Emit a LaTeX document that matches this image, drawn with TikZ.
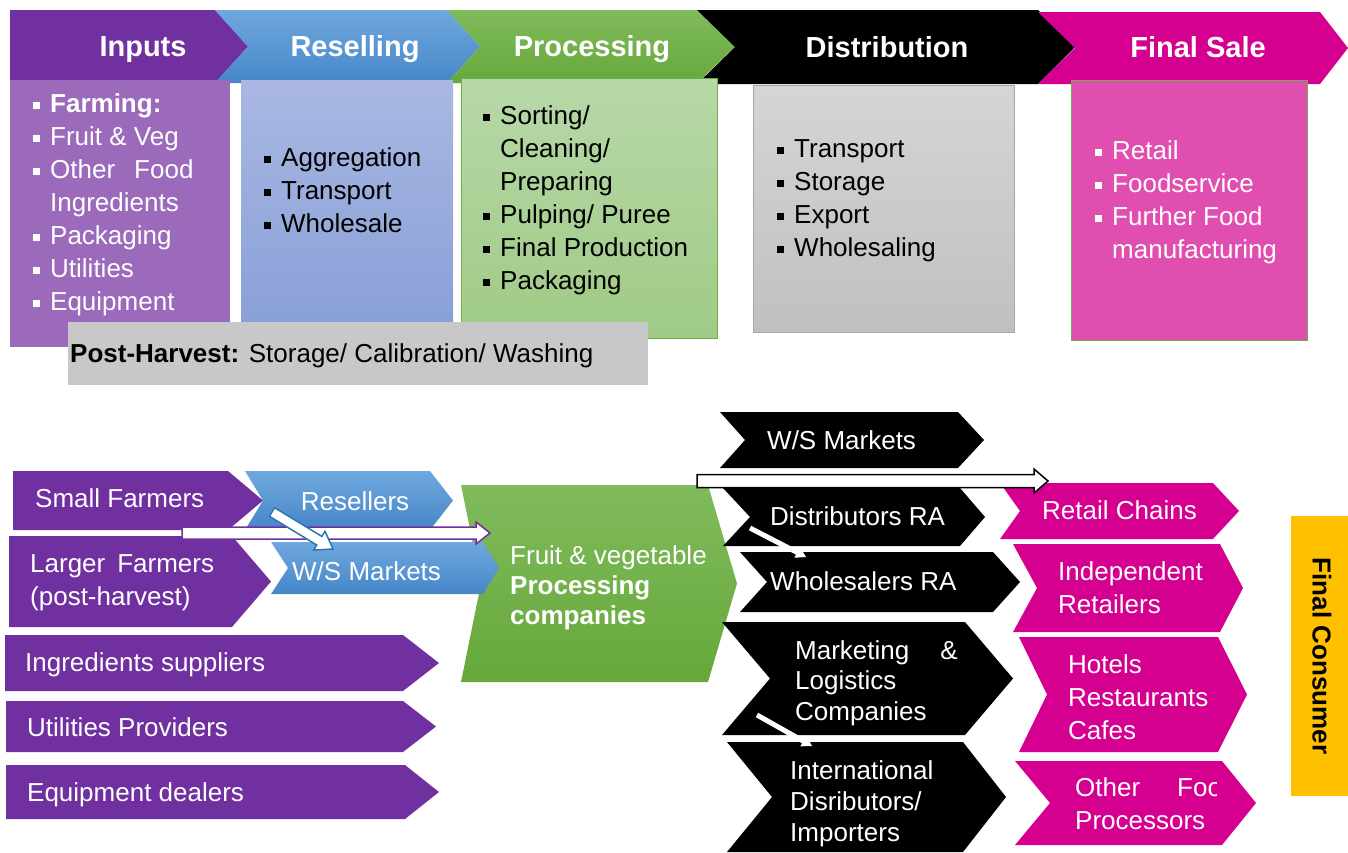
\documentclass[tikz,border=0pt]{standalone}
\usepackage{fontspec}
\setmainfont{Liberation Sans}
\usepackage{xcolor}
\usetikzlibrary{calc,positioning}

\definecolor{inpurple}{RGB}{112,48,160}
\definecolor{inlight}{RGB}{155,106,187}
\definecolor{blueT}{RGB}{111,168,222}
\definecolor{blueB}{RGB}{70,134,200}
\definecolor{bluebxT}{RGB}{170,184,226}
\definecolor{bluebxB}{RGB}{137,160,216}
\definecolor{greenT}{RGB}{128,187,92}
\definecolor{greenB}{RGB}{102,168,58}
\definecolor{greenbxT}{RGB}{183,216,168}
\definecolor{greenbxB}{RGB}{160,203,134}
\definecolor{greenln}{RGB}{112,173,71}
\definecolor{grayT}{RGB}{213,213,213}
\definecolor{grayB}{RGB}{192,192,192}
\definecolor{grayln}{RGB}{166,166,166}
\definecolor{phgray}{RGB}{200,200,200}
\definecolor{salepink}{RGB}{213,0,143}
\definecolor{salelight}{RGB}{224,79,176}
\definecolor{consumer}{RGB}{255,192,0}
\definecolor{arrblue}{RGB}{46,117,182}

% chevron: [style]{x left}{x flat right}{y top}{y bottom}{x tip}{x notch}
\newcommand\chev[7][]{\path[#1] (#2,#4) -- (#3,#4) -- (#6,{(#4+#5)/2}) -- (#3,#5) -- (#2,#5) -- (#7,{(#4+#5)/2}) -- cycle;}
% block arrow: [style]{from}{to}{half shaft}{half head}{head length}
\newcommand\blockarr[6][]{%
  \path ($(#3)!#6!(#2)$) coordinate (ahb);
  \path[#1] ($(#2)!#4!90:(#3)$) -- ($(ahb)!#4!90:(#3)$) -- ($(ahb)!#5!90:(#3)$) -- (#3)
    -- ($(ahb)!#5!-90:(#3)$) -- ($(ahb)!#4!-90:(#3)$) -- ($(#2)!#4!-90:(#3)$) -- cycle;}
\newcommand\bul{\makebox[17pt][l]{\rule[3pt]{7pt}{7pt}}}
\newcommand\indt{\hspace*{17pt}}

\begin{document}
\begin{tikzpicture}[x=1pt, y=-1pt,
    hdr/.style = {text=white, font=\fontsize{29}{33}\selectfont\bfseries, anchor=base, inner sep=0pt},
    txt/.style = {font=\fontsize{26}{33}\selectfont, align=left, anchor=base west, inner sep=0pt},
    wtxt/.style = {txt, text=white}]
  \useasboundingbox (0,0) rectangle (1348,852);

  % stage headers
  \chev[fill=inpurple]{10}{215}{10}{83}{248}{10}
  \chev[top color=blueT, bottom color=blueB]{215}{447}{10}{83}{480}{248}
  \chev[top color=greenT, bottom color=greenB]{447}{697}{10}{83}{735}{480}
  \chev[fill=black]{697}{1038}{10}{84}{1075}{735}
  \chev[fill=salepink]{1038}{1320}{12}{84}{1348}{1075}
  \node[hdr] (inputs) at (143,56) {Inputs};
  \node[hdr] (resell) at (355,56) {Reselling};
  \node[hdr] (process) at (592,56) {Processing};
  \node[hdr] (distrib) at (887,57) {Distribution};
  \node[hdr] (sale) at (1198,57) {Final Sale};

  % stage boxes
  \fill[inlight] (10,80) rectangle (230,347);
  \path[top color=bluebxT, bottom color=bluebxB] (241,80) rectangle (453,322);
  \path[top color=greenbxT, bottom color=greenbxB, draw=greenln, line width=1pt] (461,78) rectangle (717,338);
  \path[top color=grayT, bottom color=grayB, draw=grayln] (753,85) rectangle (1014,332);
  \path[fill=salelight, draw=greenln] (1071,80) rectangle (1307,340);
  \fill[phgray] (68,322) rectangle (648,385);

  \node[wtxt] (inlist) at (33,310) {\bul\textbf{Farming:}\\ \bul Fruit \& Veg\\ \bul Other\hspace{19pt}Food\\ \indt Ingredients\\ \bul Packaging\\ \bul Utilities\\ \bul Equipment};
  \node[txt] (reslist) at (264,232) {\bul Aggregation\\ \bul Transport\\ \bul Wholesale};
  \node[txt] (proclist) at (483,289) {\bul Sorting/\\ \indt Cleaning/\\ \indt Preparing\\ \bul Pulping/ Puree\\ \bul Final Production\\ \bul Packaging};
  \node[txt] (distlist) at (777,256) {\bul Transport\\ \bul Storage\\ \bul Export\\ \bul Wholesaling};
  \node[wtxt] (salelist) at (1095,258) {\bul Retail\\ \bul Foodservice\\ \bul Further Food\\ \indt manufacturing};
  \node[txt] (postharv) at (70,362) {\textbf{Post-Harvest:} Storage/ Calibration/ Washing};

  % suppliers
  \chev[fill=inpurple]{13}{228}{471}{530}{263}{13}
  \chev[fill=inpurple]{9}{232}{536}{627}{271}{9}
  \chev[fill=inpurple]{5}{403}{635}{691}{439}{5}
  \chev[fill=inpurple]{6}{403}{701}{752}{436}{6}
  \chev[fill=inpurple]{6}{405}{765}{819}{439}{6}
  \node[wtxt] (smallf) at (35,507) {Small Farmers};
  \node[wtxt] (largef) at (30,605) {Larger\hspace{12pt}Farmers\\(post-harvest)};
  \node[wtxt] (ingsup) at (25,671) {Ingredients suppliers};
  \node[wtxt] (utilprov) at (27,736) {Utilities Providers};
  \node[wtxt] (equipdeal) at (27,801) {Equipment dealers};

  % processors
  \chev[top color=greenT, bottom color=greenB]{461}{708}{485}{682}{737}{481}
  \begin{scope}
    \clip (461,485) rectangle (708,682);
    \node[wtxt, font=\fontsize{26}{30}\selectfont] (fvproc) at (510,624) {Fruit \& vegetable\\ \textbf{Processing}\\ \textbf{companies}};
  \end{scope}

  % resellers
  \chev[top color=blueT, bottom color=blueB]{245}{430}{471}{530}{453}{263}
  \chev[top color=blueT, bottom color=blueB]{271}{483}{542}{594}{499}{288}
  \node[wtxt, anchor=base] (resellers) at (355,510) {Resellers};
  \node[wtxt] (wsblue) at (292,580) {W/S Markets};

  % distributors
  \chev[fill=black]{720}{958}{412}{468}{984}{745}
  \chev[fill=black]{723}{960}{488}{546}{985}{750}
  \chev[fill=black]{740}{993}{552}{612}{1020}{767}
  \chev[fill=black]{722}{965}{622}{735}{1013}{770}
  \chev[fill=black]{727}{963}{742}{852}{1006}{772}
  \node[wtxt] (wsblack) at (767,449) {W/S Markets};
  \node[wtxt] (distra) at (770,525) {Distributors RA};
  \node[wtxt] (wholra) at (770,590) {Wholesalers RA};
  \node[wtxt, font=\fontsize{26}{30.5}\selectfont] (marklog) at (795,720) {Marketing\hspace{31pt}\&\\Logistics\\Companies};
  \node[wtxt, font=\fontsize{26}{31}\selectfont] (intdist) at (790,841) {International\\Disributors/\\Importers};

  % final sale channels
  \chev[fill=salepink]{1000}{1213}{483}{539}{1239}{1020}
  \chev[fill=salepink]{1013}{1220}{544}{632}{1243}{1037}
  \chev[fill=salepink]{1019}{1218}{637}{752}{1247}{1047}
  \chev[fill=salepink]{1015}{1222}{761}{845}{1256}{1050}
  \node[wtxt] (retch) at (1042,519) {Retail Chains};
  \node[wtxt] (indret) at (1058,613) {Independent\\Retailers};
  \node[wtxt] (horeca) at (1068,739) {Hotels\\Restaurants\\Cafes};
  \begin{scope}
    \clip (1015,761) rectangle (1216,845);
    \node[wtxt] (othproc) at (1075,829) {Other\hspace{37pt}Food\\Processors};
  \end{scope}

  \fill[consumer] (1291,516) rectangle (1348,796);
  \node[rotate=-90, font=\fontsize{26}{30}\selectfont\bfseries, inner sep=0pt] (consumer) at (1322,656) {Final Consumer};

  % flow arrows
  \coordinate (sfa) at (182,533);
  \coordinate (sfb) at (490,533);
  \blockarr[fill=white, draw=inpurple, line width=1.5pt]{sfa}{sfb}{6pt}{11pt}{14pt}
  \coordinate (rsa) at (272,512);
  \coordinate (rsb) at (333,549);
  \blockarr[fill=white, draw=arrblue, line width=1.5pt]{rsa}{rsb}{5pt}{11pt}{16pt}
  \coordinate (dsa) at (697,481);
  \coordinate (dsb) at (1048,481);
  \blockarr[fill=white, draw=black, line width=1.5pt]{dsa}{dsb}{6.5pt}{12pt}{14pt}
  \coordinate (dwa) at (750,528);
  \coordinate (dwb) at (806,557);
  \blockarr[fill=white]{dwa}{dwb}{2.5pt}{6pt}{10pt}
  \coordinate (mia) at (757,715);
  \coordinate (mib) at (812,746);
  \blockarr[fill=white]{mia}{mib}{2.5pt}{6pt}{10pt}
\end{tikzpicture}
\end{document}
